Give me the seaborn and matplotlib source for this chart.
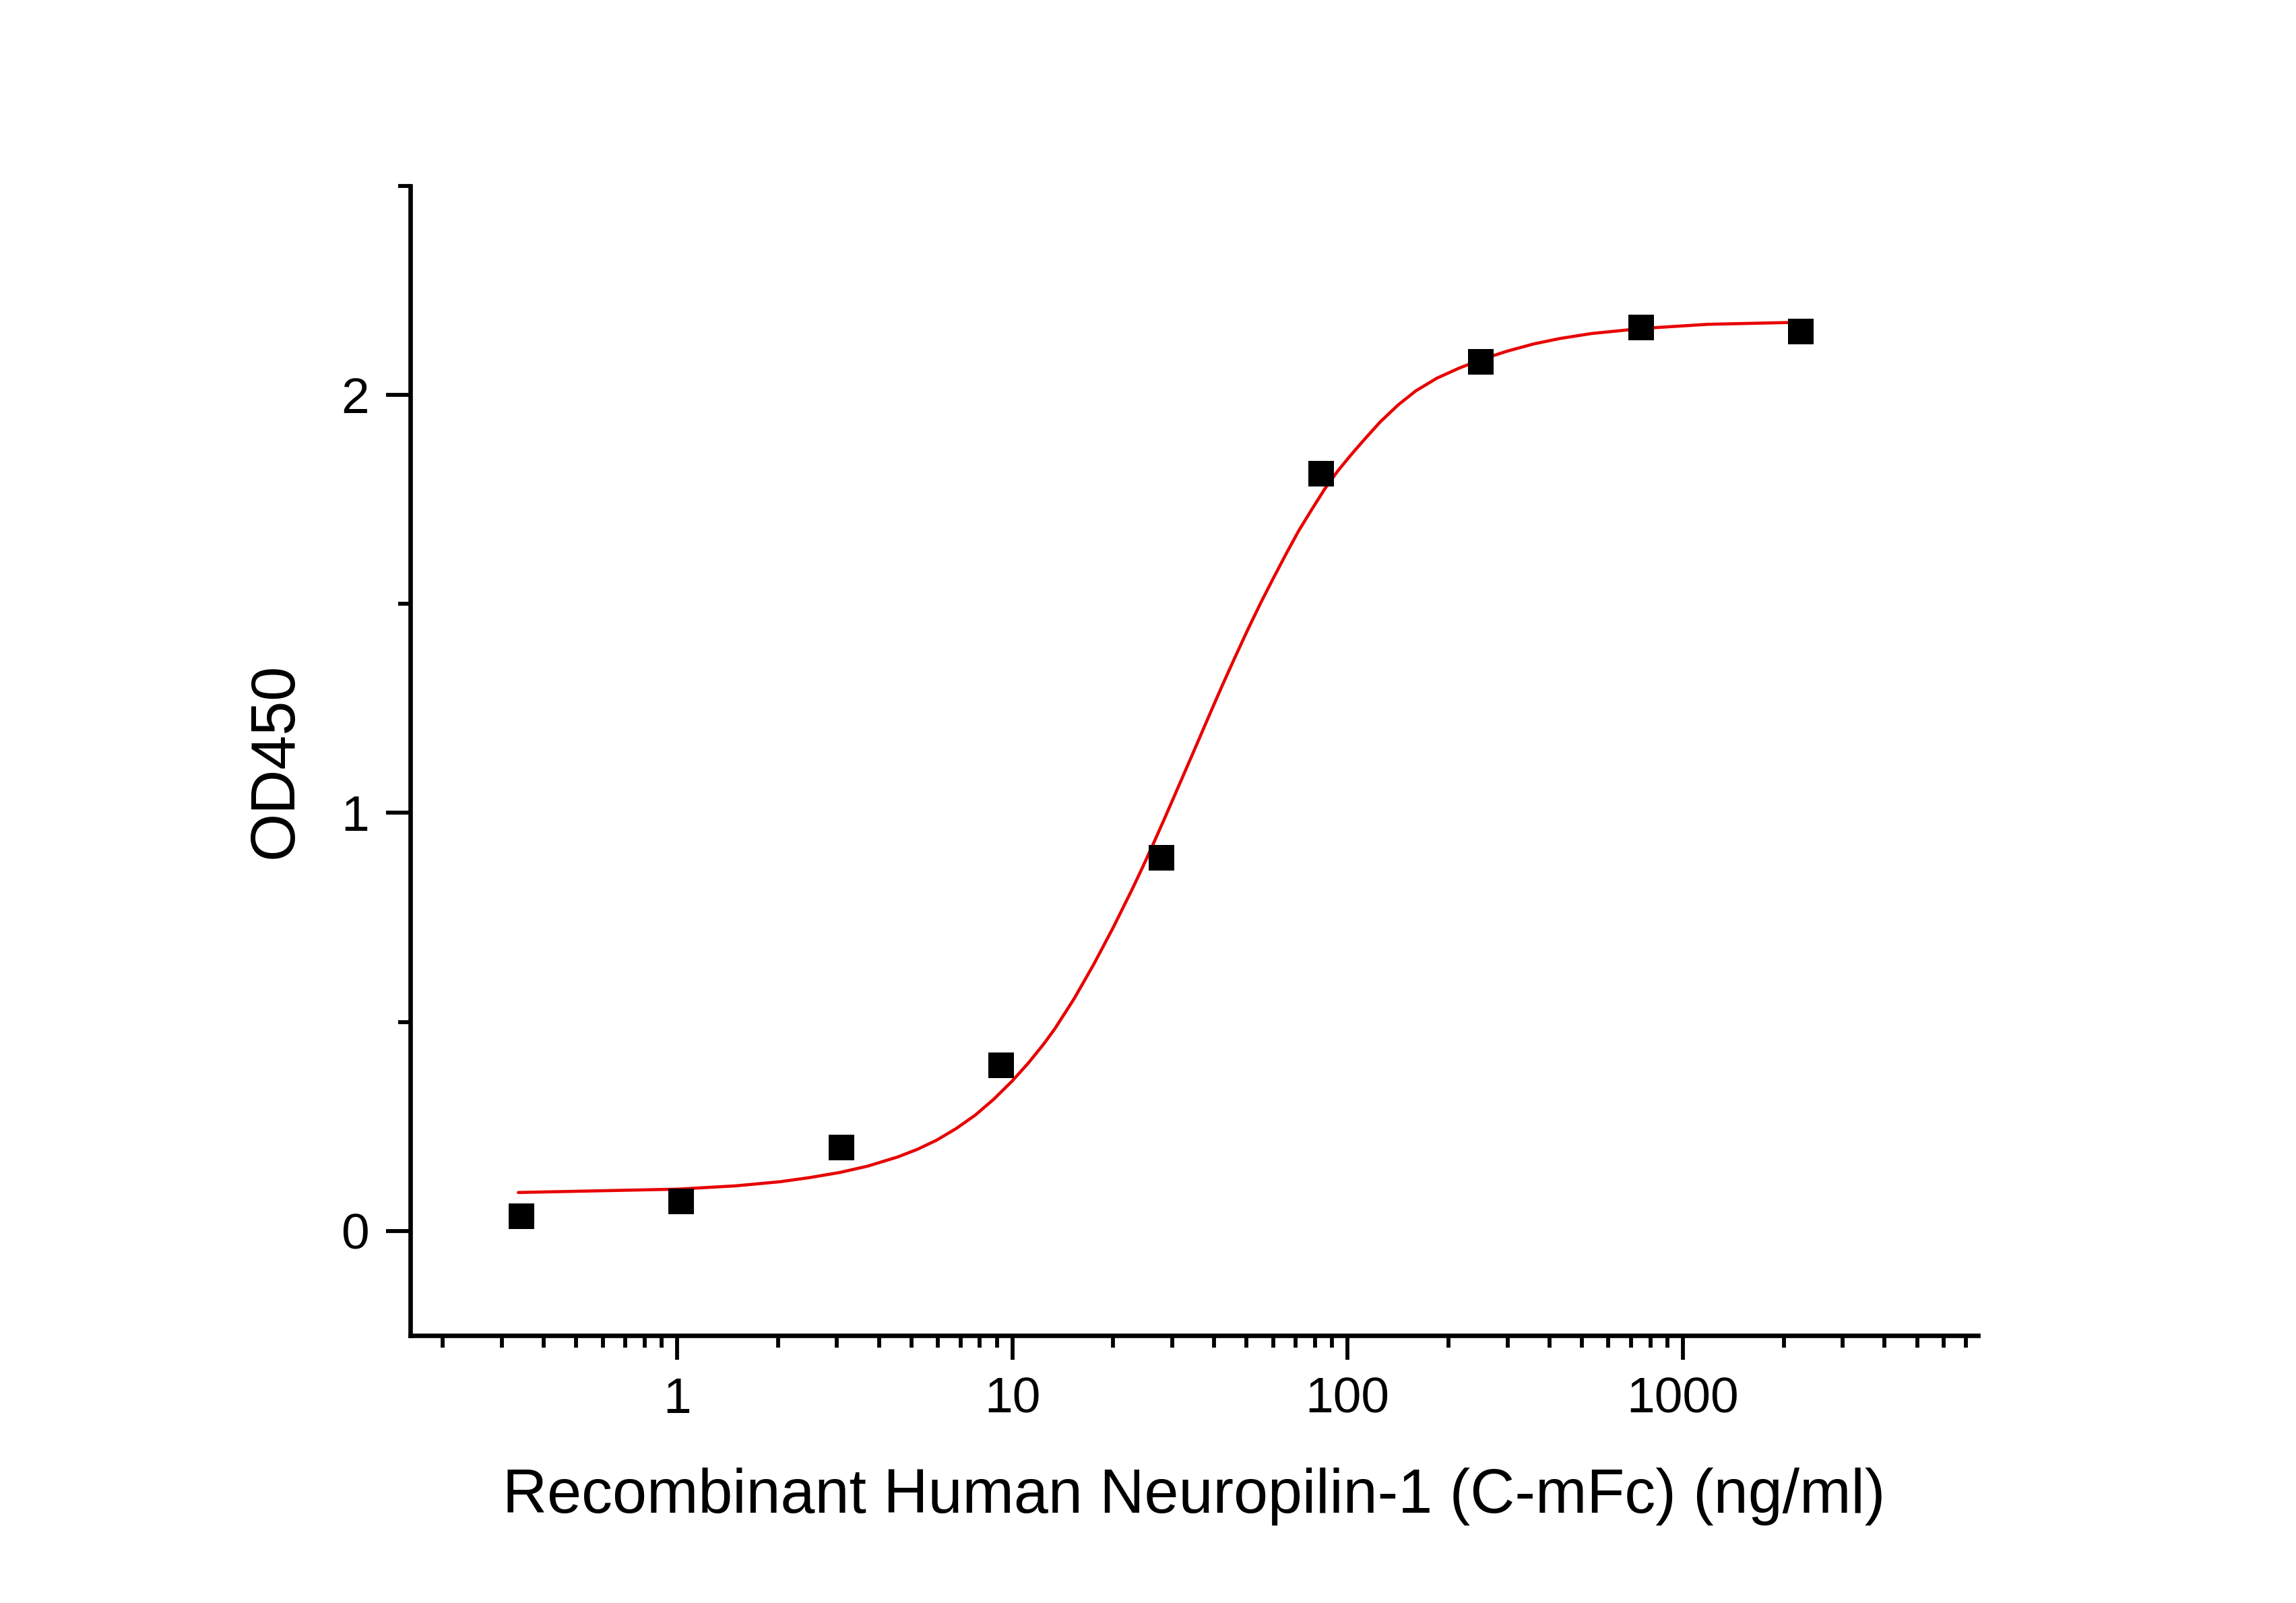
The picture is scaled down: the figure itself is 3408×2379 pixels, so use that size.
import matplotlib
matplotlib.use("Agg")
import matplotlib.pyplot as plt
import matplotlib.ticker as mticker
import pandas as pd
import seaborn as sns

# measured points (3-fold dilution series)
conc = [0.343, 1.03, 3.09, 9.26, 27.8, 83.3, 250, 750, 2250]
od450 = [0.035, 0.071, 0.199, 0.397, 0.893, 1.811, 2.080, 2.162, 2.152]

# fitted curve
fit_conc = [0.336, 1.0, 1.5, 2.04, 2.5, 3.06, 3.7, 4.55, 5.2, 5.94, 6.8, 7.75,
            8.8, 10.0, 11.2, 12.4, 13.4, 15.3, 17.5, 20.0, 22.8, 24.5, 26.3,
            28.5, 31.3, 34.5, 38.7, 42.3, 46.2, 50.5, 55.2, 60.2, 65.8, 71.5,
            78.5, 85.5, 93.5, 102, 111, 125, 141.5, 160, 184.6, 215, 251, 300,
            359, 430, 535, 755, 1188, 2266]
fit_od = [0.092, 0.100, 0.108, 0.118, 0.128, 0.140, 0.155, 0.177, 0.195, 0.217,
          0.245, 0.277, 0.315, 0.359, 0.403, 0.447, 0.484, 0.556, 0.638, 0.726,
          0.818, 0.871, 0.925, 0.988, 1.063, 1.141, 1.234, 1.305, 1.373, 1.440,
          1.504, 1.563, 1.622, 1.675, 1.728, 1.775, 1.818, 1.855, 1.889, 1.935,
          1.976, 2.010, 2.040, 2.064, 2.085, 2.105, 2.122, 2.135, 2.147, 2.159,
          2.169, 2.174]

x_label = "Recombinant Human Neuropilin-1 (C-mFc) (ng/ml)"
y_label = "OD450"

sns.set_style("ticks", {"axes.edgecolor": "black", "text.color": "black",
                        "xtick.color": "black", "ytick.color": "black",
                        "axes.labelcolor": "black"})
plt.rcParams["font.family"] = ["Liberation Sans", "DejaVu Sans"]

pts = pd.DataFrame({"conc": conc, "od": od450})
fit = pd.DataFrame({"conc": fit_conc, "od": fit_od})

fig = plt.figure(figsize=(11.36, 7.93), dpi=300)
ax = fig.add_axes([0.1787, 0.1669, 0.6828, 0.7171])
ax.set_xscale("log")

sns.lineplot(data=fit, x="conc", y="od", ax=ax, color="#e80000", linewidth=1.1,
             sort=True, estimator=None)
sns.scatterplot(data=pts, x="conc", y="od", ax=ax, marker="s", s=85,
                color="black", linewidth=0, zorder=3)

ax.set_xlim(0.16, 7600)
ax.set_ylim(-0.25, 2.5)

ax.xaxis.set_major_locator(mticker.FixedLocator([1, 10, 100, 1000]))
ax.xaxis.set_major_formatter(mticker.FixedFormatter(["1", "10", "100", "1000"]))
ax.xaxis.set_minor_locator(mticker.LogLocator(base=10, subs=range(2, 10), numticks=20))
ax.xaxis.set_minor_formatter(mticker.NullFormatter())
ax.yaxis.set_major_locator(mticker.FixedLocator([0, 1, 2]))
ax.yaxis.set_minor_locator(mticker.FixedLocator([0.5, 1.5, 2.5]))

for side in ["top", "right"]:
    ax.spines[side].set_visible(False)
for side in ["left", "bottom"]:
    ax.spines[side].set_linewidth(1.6)
    ax.spines[side].set_color("black")

ax.tick_params(which="major", length=8.6, width=1.4, labelsize=18, pad=6,
               color="black", labelcolor="black")
ax.tick_params(which="minor", length=4.3, width=1.4, color="black")

ax.set_xlabel(x_label, fontsize=22, labelpad=16, color="black")
ax.set_ylabel(y_label, fontsize=22, labelpad=13, color="black")

fig.savefig("out.png", dpi=300, facecolor="white")
